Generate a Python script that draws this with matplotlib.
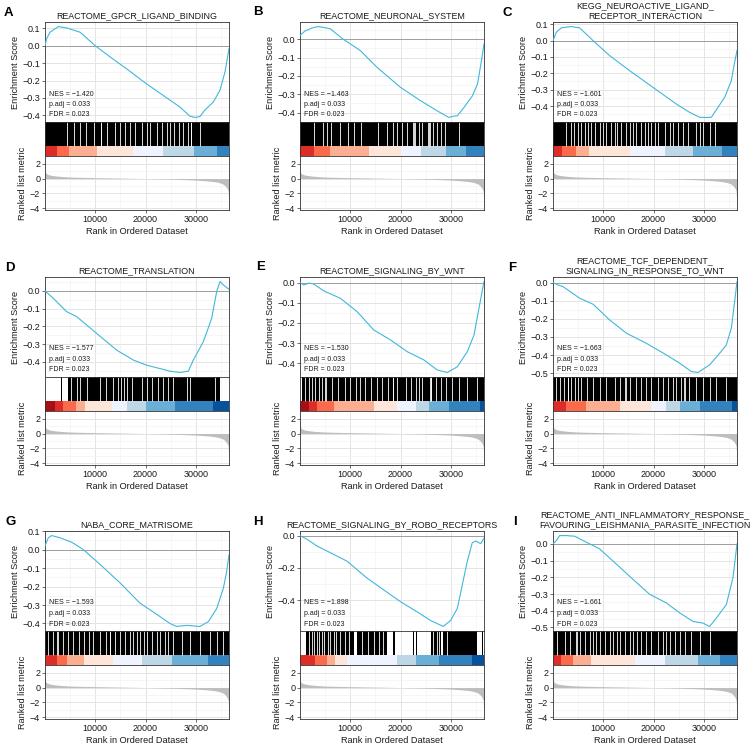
import matplotlib
matplotlib.use("Agg")
import matplotlib.pyplot as plt
from matplotlib.ticker import MultipleLocator, FixedLocator, FuncFormatter

# -------------------------------------------------
# DATA
# -------------------------------------------------
N_GENES = 36600
RANK_TICKS = [10000, 20000, 30000]

# ranked list metric, shared by every panel
METRIC_RANK = [1, 100, 300, 700, 1200, 2000, 3000, 4500, 6500, 10000, 15000, 20000,
               25000, 28000, 30000, 32000, 33500, 34500, 35300, 35800, 36200, 36450, 36600]
METRIC_VALUE = [2.7, 0.85, 0.65, 0.52, 0.44, 0.36, 0.29, 0.22, 0.17, 0.12, 0.06, 0.0,
                -0.08, -0.15, -0.21, -0.3, -0.4, -0.52, -0.7, -0.95, -1.3, -1.7, -3.9]

LETTERS = ["A", "B", "C", "D", "E", "F", "G", "H", "I"]
TITLES = [
    "REACTOME_GPCR_LIGAND_BINDING",
    "REACTOME_NEURONAL_SYSTEM",
    "KEGG_NEUROACTIVE_LIGAND_\nRECEPTOR_INTERACTION",
    "REACTOME_TRANSLATION",
    "REACTOME_SIGNALING_BY_WNT",
    "REACTOME_TCF_DEPENDENT_\nSIGNALING_IN_RESPONSE_TO_WNT",
    "NABA_CORE_MATRISOME",
    "REACTOME_SIGNALING_BY_ROBO_RECEPTORS",
    "REACTOME_ANTI_INFLAMMATORY_RESPONSE_\nFAVOURING_LEISHMANIA_PARASITE_INFECTION",
]
NES = [-1.420, -1.463, -1.601, -1.577, -1.530, -1.663, -1.593, -1.898, -1.661]
P_ADJ = [0.033] * 9
FDR = [0.023] * 9

# running enrichment score curves
ES_RANK_A = [0, 300, 1000, 2650, 4300, 7000, 10000, 13000, 16200, 20000, 24200, 26800,
             28800, 29800, 30800, 31800, 33500, 34800, 35800, 36600]
ES_SCORE_A = [0.0, 0.04, 0.078, 0.111, 0.103, 0.078, 0.0, -0.065, -0.132, -0.215, -0.300,
              -0.352, -0.405, -0.413, -0.408, -0.371, -0.323, -0.256, -0.151, -0.017]
ES_RANK_B = [0, 1000, 2500, 3700, 6000, 8600, 12000, 15300, 20000, 24000, 27300, 29600,
             30500, 31300, 32600, 34300, 35300, 36100, 36600]
ES_SCORE_B = [0.02, 0.045, 0.062, 0.069, 0.057, 0.0, -0.062, -0.153, -0.263, -0.336, -0.391,
              -0.427, -0.42, -0.418, -0.373, -0.309, -0.245, -0.117, -0.026]
ES_RANK_C = [0, 660, 1660, 3650, 5300, 7960, 11270, 15250, 19890, 24530, 27190, 29170,
             30500, 31490, 32820, 34150, 35470, 36130, 36600]
ES_SCORE_C = [0.0, 0.051, 0.078, 0.086, 0.078, 0.0, -0.092, -0.184, -0.286, -0.388, -0.439,
              -0.469, -0.47, -0.469, -0.408, -0.347, -0.245, -0.133, -0.061]
ES_RANK_D = [0, 1660, 4310, 6300, 10280, 14260, 17570, 20220, 22870, 24860, 26850, 28510,
             29500, 31490, 33150, 34150, 34810, 35470, 36600]
ES_SCORE_D = [0.0, -0.042, -0.117, -0.145, -0.24, -0.334, -0.39, -0.419, -0.438, -0.453,
              -0.46, -0.453, -0.39, -0.287, -0.155, -0.004, 0.053, 0.034, 0.009]
ES_RANK_E = [0, 730, 1730, 2720, 4720, 8040, 11360, 14680, 18000, 21320, 24640, 27300,
             29290, 31290, 33280, 34610, 35600, 36600]
ES_SCORE_E = [0.0, -0.012, -0.003, -0.007, -0.041, -0.078, -0.144, -0.235, -0.284, -0.342,
              -0.383, -0.433, -0.445, -0.417, -0.342, -0.26, -0.127, 0.005]
ES_RANK_F = [0, 1000, 1990, 5300, 7960, 11270, 14590, 18570, 22540, 25200, 27520, 28840,
             31160, 33150, 34480, 35470, 36130, 36600]
ES_SCORE_F = [0.0, -0.013, -0.022, -0.086, -0.119, -0.206, -0.279, -0.335, -0.399, -0.445,
              -0.491, -0.496, -0.454, -0.39, -0.344, -0.252, -0.105, 0.006]
ES_RANK_G = [0, 660, 1330, 2980, 5300, 7630, 10940, 14920, 18900, 22210, 24860, 26190,
             28180, 30830, 32490, 34150, 35470, 36130, 36600]
ES_SCORE_G = [0.02, 0.064, 0.076, 0.064, 0.04, 0.0, -0.08, -0.18, -0.29, -0.35, -0.4,
              -0.416, -0.41, -0.416, -0.39, -0.32, -0.21, -0.12, -0.03]
ES_RANK_H = [0, 1390, 3390, 6710, 9370, 13350, 16670, 20000, 23320, 25970, 28500, 29950,
             31290, 32280, 33280, 34270, 34940, 35940, 36600]
ES_SCORE_H = [0.0, -0.023, -0.065, -0.117, -0.159, -0.264, -0.337, -0.41, -0.473, -0.526,
              -0.563, -0.526, -0.452, -0.306, -0.159, -0.044, -0.034, -0.05, -0.017]
ES_RANK_I = [0, 660, 1330, 2650, 4310, 6630, 9280, 12600, 15910, 19230, 22540, 25200,
             27850, 29840, 31160, 32490, 34480, 35800, 36600]
ES_SCORE_I = [0.0, 0.02, 0.05, 0.05, 0.046, 0.01, -0.03, -0.121, -0.212, -0.302, -0.353,
              -0.413, -0.464, -0.474, -0.494, -0.444, -0.363, -0.202, 0.0]

# colour band: bin edges (ranks) and bin level (0 = most up, 9 = most down)
BAND_EDGES_A = [0, 2390, 4770, 10340, 17500, 23470, 29640, 34210, 36600]
BAND_LEVEL_A = [1, 2, 3, 4, 5, 6, 7, 8]
BAND_EDGES_B = [0, 2850, 5900, 13680, 20000, 24130, 28970, 32960, 36600]
BAND_LEVEL_B = [1, 2, 3, 4, 5, 6, 7, 8]
BAND_EDGES_C = [0, 1790, 4510, 7160, 15250, 22340, 27850, 33680, 36600]
BAND_LEVEL_C = [1, 2, 3, 4, 5, 6, 7, 8]
BAND_EDGES_D = [0, 1990, 3650, 6170, 7960, 13260, 16240, 20020, 25860, 33350, 36600]
BAND_LEVEL_D = [0, 1, 2, 3, 4, 5, 6, 7, 8, 9]
BAND_EDGES_E = [0, 1730, 3390, 6840, 14680, 19330, 23000, 25640, 29620, 35800, 36600]
BAND_LEVEL_E = [0, 1, 2, 3, 4, 5, 6, 7, 8, 9]
BAND_EDGES_F = [0, 2650, 6500, 13260, 19560, 22500, 25200, 29170, 35670, 36600]
BAND_LEVEL_F = [1, 2, 3, 4, 5, 6, 7, 8, 9]
BAND_EDGES_G = [0, 2320, 4440, 7820, 13590, 19230, 25200, 32490, 36600]
BAND_LEVEL_G = [1, 2, 3, 4, 5, 6, 7, 8]
BAND_EDGES_H = [0, 3060, 5380, 7040, 9370, 19330, 22980, 27630, 34270, 36600]
BAND_LEVEL_H = [1, 2, 3, 4, 5, 6, 7, 8, 9]
BAND_EDGES_I = [0, 1660, 3980, 7630, 16250, 22210, 28840, 33150, 36600]
BAND_LEVEL_I = [1, 2, 3, 4, 5, 6, 7, 8]

# gene hits: dense stretches of hits, and the gaps (no hit) inside them
HIT_SPANS_A = [(0, 36600)]
HIT_GAPS_A = [4310, 5770, 6960, 8160, 9810, 11050, 11200, 12400, 13920, 14920, 15910,
              16910, 17900, 19230, 20220, 20890, 22340, 23210, 24200, 24860, 25660,
              26650, 27520, 28510, 28980, 29080, 30830]
HIT_SPANS_B = [(0, 36600)]
HIT_GAPS_B = [2860, 4580, 5380, 6240, 7900, 9500, 10700, 12160, 15480, 17340, 18530,
              19330, 20330, 21320, 22400, 22600, 22800, 23650, 24310, 25450, 25650,
              25850, 26500, 27300, 28100, 28830, 31620]
HIT_SPANS_C = [(0, 36600)]
HIT_GAPS_C = [2650, 3650, 4110, 4970, 5640, 6300, 6960, 7630, 8290, 9280, 9950, 10610,
              11600, 12270, 12730, 13590, 14450, 15250, 15910, 16580, 17570, 18230,
              18900, 19560, 20220, 20890, 22210, 23210, 23870, 24860, 25860, 26850,
              28510, 29170, 29840, 31160, 32160]
HIT_SPANS_D = [(3210, 3410), (4640, 34810)]
HIT_GAPS_D = [5100, 6300, 6960, 8420, 10940, 12130, 13590, 14590, 15050, 15710, 16240,
              17240, 19230, 20220, 21220, 22540, 23540, 24530, 25530, 28180, 28840, 33810]
HIT_SPANS_E = [(300, 36600)]
HIT_GAPS_E = [930, 1730, 2390, 3060, 3720, 4380, 5000, 5100, 6380, 7510, 9030, 10030,
              11230, 12020, 13020, 14150, 15340, 16340, 17470, 18480, 18580, 19330,
              20990, 21990, 22980, 23650, 24310, 25800, 26000, 26150, 26970, 27960,
              28960, 30290, 31620, 33280, 35270]
HIT_SPANS_F = [(0, 36600)]
HIT_GAPS_F = [530, 1330, 2120, 2930, 3030, 3650, 4310, 4970, 5640, 6760, 7960, 9280,
              10610, 12270, 13260, 14400, 14500, 15380, 16580, 17570, 18570, 19560,
              20890, 21880, 22870, 23870, 24530, 25530, 26140, 26240, 27050, 28510,
              29840, 31160, 32490, 34480]
HIT_SPANS_G = [(0, 36600)]
HIT_GAPS_G = [660, 1530, 2400, 2500, 3650, 4640, 5640, 6830, 7760, 8820, 9610, 10940,
              12130, 12880, 12980, 13920, 14920, 15910, 16910, 17570, 18230, 18900,
              19690, 20350, 21220, 22210, 22870, 23870, 24530, 25530, 27190, 28840,
              30830, 32820, 34150, 35480]
HIT_SPANS_H = [(1260, 10700), (11360, 17340), (18500, 18800), (22550, 22750),
               (23080, 23280), (25970, 28100), (28500, 35270), (36170, 36370)]
HIT_GAPS_H = [1730, 2390, 2860, 3390, 3850, 4380, 4850, 5510, 6040, 6710, 7240, 7900,
              9030, 9700, 12360, 13480, 14680, 15680, 16540, 26500, 27170, 27630, 29290]
HIT_SPANS_I = [(0, 36600)]
HIT_GAPS_I = [800, 2320, 3320, 4590, 4690, 5440, 6300, 7290, 7960, 8620, 9420, 10280,
              11270, 11930, 12730, 13390, 14260, 15250, 15910, 16710, 17570, 18570,
              19560, 20890, 21880, 22540, 23210, 24200, 25200, 26190, 27520, 29170,
              31160]

# -------------------------------------------------
# STYLE / LAYOUT
# -------------------------------------------------
W, H = 753, 747
BAND_PALETTE = ["#A50F15", "#DE2D26", "#FB6A4A", "#FCAE91", "#FEE5D9",
                "#EFF3FF", "#BDD7E7", "#6BAED6", "#3182BD", "#08519C"]
ES_COLOR = "#41B7DA"
METRIC_COLOR = "#BEBEBE"
FRAME = "#333333"
TEXT = "#1A1A1A"

COL_LEFT = [45, 300, 553]
ROW_TOP = [22, 277, 531]
PANEL_W = 184
ES_H, HIT_H, RANK_H = 100, 34, 54
COLOR_FRAC = 10 / 34
LETTER_POS = [(4, 13), (253, 12), (503, 13),
              (5, 268), (256, 267), (508, 268),
              (5, 522), (253, 522), (513, 522)]

plt.rcParams["font.family"] = ["Liberation Sans", "DejaVu Sans"]
plt.rcParams["axes.unicode_minus"] = True

PANELS = [
    dict(es=(ES_RANK_A, ES_SCORE_A), band=(BAND_EDGES_A, BAND_LEVEL_A), hits=(HIT_SPANS_A, HIT_GAPS_A), step=0.1),
    dict(es=(ES_RANK_B, ES_SCORE_B), band=(BAND_EDGES_B, BAND_LEVEL_B), hits=(HIT_SPANS_B, HIT_GAPS_B), step=0.1),
    dict(es=(ES_RANK_C, ES_SCORE_C), band=(BAND_EDGES_C, BAND_LEVEL_C), hits=(HIT_SPANS_C, HIT_GAPS_C), step=0.1),
    dict(es=(ES_RANK_D, ES_SCORE_D), band=(BAND_EDGES_D, BAND_LEVEL_D), hits=(HIT_SPANS_D, HIT_GAPS_D), step=0.1),
    dict(es=(ES_RANK_E, ES_SCORE_E), band=(BAND_EDGES_E, BAND_LEVEL_E), hits=(HIT_SPANS_E, HIT_GAPS_E), step=0.1),
    dict(es=(ES_RANK_F, ES_SCORE_F), band=(BAND_EDGES_F, BAND_LEVEL_F), hits=(HIT_SPANS_F, HIT_GAPS_F), step=0.1),
    dict(es=(ES_RANK_G, ES_SCORE_G), band=(BAND_EDGES_G, BAND_LEVEL_G), hits=(HIT_SPANS_G, HIT_GAPS_G), step=0.1),
    dict(es=(ES_RANK_H, ES_SCORE_H), band=(BAND_EDGES_H, BAND_LEVEL_H), hits=(HIT_SPANS_H, HIT_GAPS_H), step=0.2),
    dict(es=(ES_RANK_I, ES_SCORE_I), band=(BAND_EDGES_I, BAND_LEVEL_I), hits=(HIT_SPANS_I, HIT_GAPS_I), step=0.1),
]


def box(left, top, width, height):
    # pixel box -> figure fraction
    return [left / W, 1 - (top + height) / H, width / W, height / H]


def fmt1(v, _pos):
    s = f"{round(v, 3):.1f}"
    if s == "-0.0":
        s = "0.0"
    return s.replace("-", "\u2212")


def style_axis(ax):
    for sp in ax.spines.values():
        sp.set_color(FRAME)
        sp.set_linewidth(0.6)
    ax.set_axisbelow(True)
    ax.tick_params(which="major", direction="out", length=2, width=0.5, color=FRAME,
                   labelsize=6.5, labelcolor=TEXT, pad=1.5)
    ax.tick_params(which="minor", length=0)
    ax.grid(which="major", color="#E4E4E4", linewidth=0.7)
    ax.grid(which="minor", color="#F1F1F1", linewidth=0.45)
    ax.set_xlim(0, N_GENES)
    ax.xaxis.set_major_locator(FixedLocator(RANK_TICKS))
    ax.xaxis.set_minor_locator(MultipleLocator(5000))


def draw_panel(fig, i, p):
    left = COL_LEFT[i % 3]
    top = ROW_TOP[i // 3]

    # ---- running enrichment score ----
    ax_es = fig.add_axes(box(left, top, PANEL_W, ES_H))
    style_axis(ax_es)
    rank, score = p["es"]
    ax_es.axhline(0, color="#9E9E9E", linewidth=0.7, zorder=1)
    ax_es.plot(rank, score, color=ES_COLOR, linewidth=0.8, zorder=3)
    ax_es.margins(y=0.05)
    ax_es.yaxis.set_major_locator(MultipleLocator(p["step"]))
    ax_es.yaxis.set_minor_locator(MultipleLocator(p["step"] / 2))
    ax_es.yaxis.set_major_formatter(FuncFormatter(fmt1))
    ax_es.tick_params(axis="x", bottom=False, labelbottom=False)
    ax_es.set_ylabel("Enrichment Score", fontsize=6.6, color=TEXT, labelpad=2)
    ax_es.set_title(TITLES[i], fontsize=6.4, color=TEXT, pad=3, linespacing=1.05)
    nes = f"{NES[i]:.3f}".replace("-", "\u2212")
    for frac, txt in [(0.28, f"NES = {nes}"), (0.175, f"p.adj = {P_ADJ[i]:.3f}"),
                      (0.07, f"FDR = {FDR[i]:.3f}")]:
        ax_es.text(0.022, frac, txt, transform=ax_es.transAxes, fontsize=5.0,
                   color=TEXT, va="center", ha="left", zorder=4)

    # ---- gene hits + colour band ----
    ax_hit = fig.add_axes(box(left, top + ES_H, PANEL_W, HIT_H))
    style_axis(ax_hit)
    ax_hit.grid(which="both", axis="y", visible=False)
    ax_hit.set_ylim(0, 1)
    ax_hit.tick_params(which="both", left=False, bottom=False,
                       labelleft=False, labelbottom=False)
    spans, gaps = p["hits"]
    for s, e in spans:
        ax_hit.axvspan(s, e, ymin=COLOR_FRAC, ymax=1, color="black", linewidth=0)
    ax_hit.vlines(gaps, COLOR_FRAC, 1, color="white", linewidth=0.6)
    edges, levels = p["band"]
    for x0, x1, lv in zip(edges[:-1], edges[1:], levels):
        ax_hit.axvspan(x0, x1, ymin=0, ymax=COLOR_FRAC, color=BAND_PALETTE[lv], linewidth=0)

    # ---- ranked list metric ----
    ax_rk = fig.add_axes(box(left, top + ES_H + HIT_H, PANEL_W, RANK_H))
    style_axis(ax_rk)
    ax_rk.fill_between(METRIC_RANK, 0, METRIC_VALUE, color=METRIC_COLOR, linewidth=0, zorder=2)
    ax_rk.margins(y=0.05)
    ax_rk.yaxis.set_major_locator(MultipleLocator(2))
    ax_rk.yaxis.set_minor_locator(MultipleLocator(1))
    ax_rk.yaxis.set_major_formatter(FuncFormatter(lambda v, _p: f"{int(round(v))}".replace("-", "\u2212")))
    ax_rk.set_ylabel("Ranked list metric", fontsize=6.6, color=TEXT, labelpad=2)
    ax_rk.set_xlabel("Rank in Ordered Dataset", fontsize=6.6, color=TEXT, labelpad=2)

    lx, ly = LETTER_POS[i]
    fig.text(lx / W, 1 - ly / H, LETTERS[i], fontsize=9.5, fontweight="bold",
             color="black", ha="left", va="center")


def main():
    fig = plt.figure(figsize=(W / 100, H / 100), dpi=100)
    fig.patch.set_facecolor("white")
    for i, p in enumerate(PANELS):
        draw_panel(fig, i, p)
    fig.savefig("out.png", dpi=100, facecolor="white")
    plt.close(fig)


if __name__ == "__main__":
    main()
